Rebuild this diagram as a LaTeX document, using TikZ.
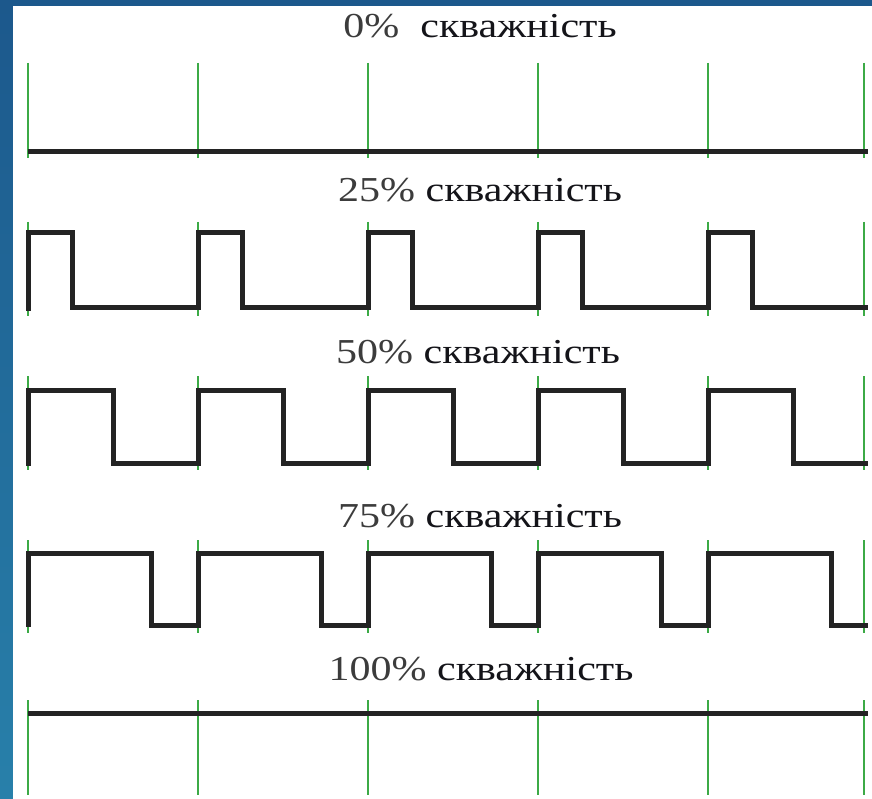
\documentclass[tikz,border=0pt]{standalone}
\usepackage{fontspec}
\setmainfont{Liberation Serif}
\definecolor{wave}{RGB}{35,35,35}
\definecolor{tick}{RGB}{60,170,70}
\definecolor{bluetop}{RGB}{28,88,140}
\definecolor{bluebot}{RGB}{40,128,170}
\definecolor{numtext}{RGB}{60,60,60}
\definecolor{wordtext}{RGB}{20,20,25}
\newcommand{\wtitle}[2]{\scalebox{1.2}[1]{\textcolor{numtext}{#1}\textcolor{wordtext}{#2}}}
\begin{document}
\begin{tikzpicture}[x=1pt,y=-1pt,
  wavepath/.style={draw=wave,line width=5pt,line join=miter},
  ticks/.style={draw=tick,line width=2pt},
  title/.style={anchor=base,font=\fontsize{35}{40}\selectfont,inner sep=0pt}]
\useasboundingbox (0,0) rectangle (872,799);
\shade[top color=bluetop,bottom color=bluebot] (0,0) rectangle (872,799);
\fill[white] (13,6) rectangle (872,799);
% titles
\node[title] (t0) at (480,38) {\wtitle{0\%\ \ }{скважність}};
\node[title] (t25) at (480,202) {\wtitle{25\% }{скважність}};
\node[title] (t50) at (478,363) {\wtitle{50\% }{скважність}};
\node[title] (t75) at (480,527) {\wtitle{75\% }{скважність}};
\node[title] (t100) at (481,680) {\wtitle{100\% }{скважність}};
% ticks
\foreach \x in {28,198,368,538,708,864}{
  \draw[ticks] (\x,63) -- (\x,158);
  \draw[ticks] (\x,222) -- (\x,316);
  \draw[ticks] (\x,376) -- (\x,470);
  \draw[ticks] (\x,540) -- (\x,633);
  \draw[ticks] (\x,700) -- (\x,795);
}
% 0%
\draw[wavepath] (28,152) -- (868,152);
% 25%
\draw[wavepath] (28,311) \foreach \x in {28,198,368,538,708}{ -- (\x,308) -- (\x,233) -- (\x+44,233) -- (\x+44,308)} -- (868,308);
% 50%
\draw[wavepath] (28,466) \foreach \x in {28,198,368,538,708}{ -- (\x,463) -- (\x,390) -- (\x+85,390) -- (\x+85,463)} -- (868,463);
% 75%
\draw[wavepath] (28,627) \foreach \x in {28,198,368,538,708}{ -- (\x,625) -- (\x,553) -- (\x+123,553) -- (\x+123,625)} -- (868,625);
% 100%
\draw[wavepath] (28,713) -- (868,713);
\end{tikzpicture}
\end{document}
